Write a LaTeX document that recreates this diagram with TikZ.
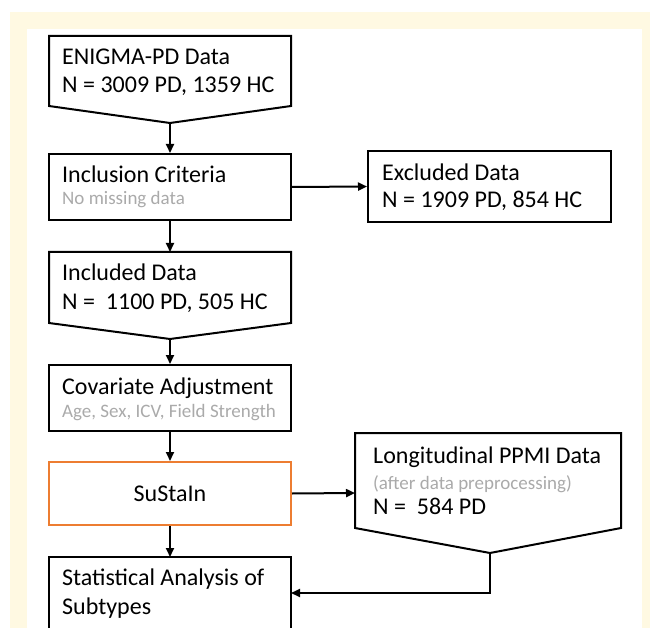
\documentclass[tikz,border=0pt]{standalone}
\usepackage{fontspec}
\setmainfont{Carlito}
\usetikzlibrary{arrows.meta}
\definecolor{cream}{RGB}{255,249,226}
\definecolor{boxorange}{RGB}{237,125,49}
\definecolor{notegray}{RGB}{170,170,170}
\tikzset{
  outline/.style={draw=black, line width=2pt, line join=miter, fill=white},
  hilite/.style={draw=boxorange, line width=2pt, fill=white},
  flow/.style={draw=black, line width=2pt, -{Triangle[length=9pt,width=8pt]}},
  maintext/.style={anchor=base west, inner sep=0pt, font=\fontsize{24}{28}\selectfont},
  notetext/.style={anchor=base west, inner sep=0pt, text=notegray, font=\fontsize{19}{22}\selectfont},
}
\begin{document}
\begin{tikzpicture}[x=1pt, y=-1pt]
  \useasboundingbox (0,0) rectangle (650,628);
  \clip (0,0) rectangle (650,628);
  % frame
  \fill[cream] (10,12) rectangle (650,628);
  \fill[white] (27,29) rectangle (642,628);

  % ENIGMA-PD data (off-page shape)
  \draw[outline] (49,36) -- (291,36) -- (291,106) -- (170,123) -- (49,106) -- cycle;
  \coordinate (enigmatip) at (170,123);
  \node[maintext] (enigmaA) at (62,65) {ENIGMA-PD Data};
  \node[maintext] (enigmaB) at (62,93) {N = 3009 PD, 1359 HC};

  % inclusion criteria
  \node[outline, minimum width=242pt, minimum height=66pt, inner sep=0pt] (incl) at (170,187) {};
  \node[maintext] (inclA) at (62,183) {Inclusion Criteria};
  \node[notetext] (inclB) at (62,205) {No missing data};

  % excluded data
  \node[outline, minimum width=243pt, minimum height=71pt, inner sep=0pt] (excl) at (489.5,186.5) {};
  \node[maintext] (exclA) at (382,181) {Excluded Data};
  \node[maintext] (exclB) at (382,208) {N = 1909 PD, 854 HC};

  % included data (off-page shape)
  \draw[outline] (49,252) -- (291,252) -- (291,323) -- (170,339) -- (49,323) -- cycle;
  \coordinate (incltop) at (170,252);
  \coordinate (includedtip) at (170,339);
  \node[maintext] (includedA) at (62,280) {Included Data};
  \node[maintext] (includedB) at (62,309) {N =\ \ 1100 PD, 505 HC};

  % covariate adjustment
  \node[outline, minimum width=242pt, minimum height=66pt, inner sep=0pt] (cov) at (170,398) {};
  \node[maintext] (covA) at (62,394) {Covariate Adjustment};
  \node[notetext] (covB) at (62,417) {Age, Sex, ICV, Field Strength};

  % SuStaIn
  \node[hilite, minimum width=242pt, minimum height=63pt, inner sep=0pt] (sustain) at (170,493.5) {};
  \node[anchor=base, inner sep=0pt, font=\fontsize{24}{28}\selectfont] (sustainT) at (170,501) {SuStaIn};

  % longitudinal PPMI data (off-page shape)
  \draw[outline] (355,433) -- (621,433) -- (621,528) -- (490,553) -- (355,528) -- cycle;
  \coordinate (ppmileft) at (355,493);
  \coordinate (ppmitip) at (490,553);
  \coordinate (ppmibend) at (490,593);
  \node[maintext] (ppmiA) at (373,463) {Longitudinal PPMI Data};
  \node[notetext] (ppmiB) at (373,489) {(after data preprocessing)};
  \node[maintext] (ppmiC) at (373,514) {N =\ \ 584 PD};

  % statistical analysis
  \draw[outline] (49,640) -- (49,557) -- (291,557) -- (291,640);
  \coordinate (stattop) at (170,557);
  \coordinate (statright) at (291,593);
  \node[maintext] (statA) at (62,585) {Statistical Analysis of};
  \node[maintext] (statB) at (62,614) {Subtypes};

  % connectors
  \draw[flow] (enigmatip) -- (incl.north);
  \draw[flow] (incl.east) -- (excl.west);
  \draw[flow] (incl.south) -- (incltop);
  \draw[flow] (includedtip) -- (cov.north);
  \draw[flow] (cov.south) -- (sustain.north);
  \draw[flow] (sustain.east) -- (ppmileft);
  \draw[flow] (sustain.south) -- (stattop);
  \draw[flow] (ppmitip) -- (ppmibend) -- (statright);
\end{tikzpicture}
\end{document}
